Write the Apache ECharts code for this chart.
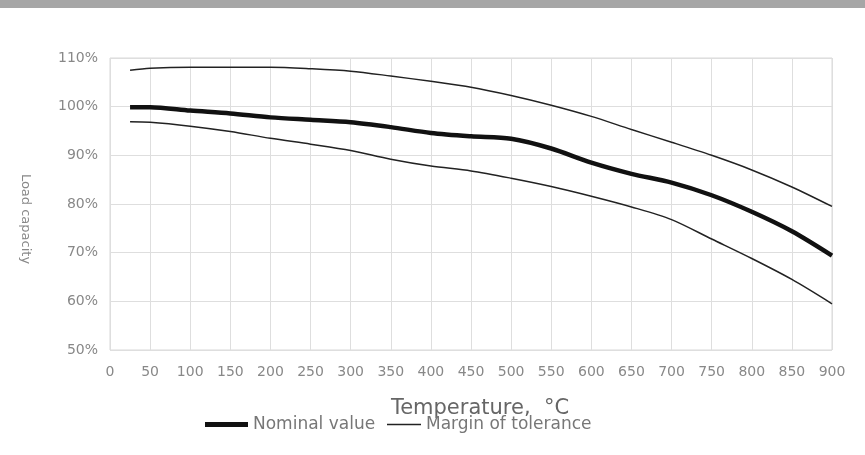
<!DOCTYPE html>
<html>
<head>
<meta charset="utf-8">
<script src="https://cdn.jsdelivr.net/npm/echarts@6/dist/echarts.min.js"></script>
<style>
html,body{margin:0;padding:0;background:#fff;}
#c{width:865px;height:455px;}
</style>
</head>
<body>
<div id="c"></div>
<script>
var temperatures = [25,50,100,150,200,250,300,350,400,450,500,550,600,650,700,750,800,850,900];
var nominal = [99.9,99.9,99.2,98.6,97.8,97.3,96.8,95.8,94.6,93.9,93.4,91.4,88.5,86.2,84.4,81.8,78.4,74.4,69.4];
var upper = [107.5,107.9,108.1,108.1,108.1,107.8,107.3,106.3,105.2,104.0,102.3,100.3,98.0,95.3,92.7,90.0,87.0,83.5,79.5];
var lower = [96.9,96.8,96.0,94.9,93.5,92.3,91.0,89.2,87.8,86.8,85.3,83.6,81.6,79.4,76.8,72.8,68.8,64.5,59.5];
var yTicks = [50,60,70,80,90,100,110];
var xTicks = [0,50,100,150,200,250,300,350,400,450,500,550,600,650,700,750,800,850,900];

function pairs(xs, ys){ return xs.map(function(x,i){ return [x, ys[i]]; }); }

var chart = echarts.init(document.getElementById('c'), null, {renderer:'canvas'});
var font = 'DejaVu Sans';
var legendText = {color:'#777', fontFamily:font, fontSize:17};
chart.setOption({
  animation:false,
  backgroundColor:'#ffffff',
  graphic:[{type:'rect', left:0, top:0, shape:{width:865, height:8}, style:{fill:'#a6a6a6'}, silent:true}],
  grid:{left:110, right:33, top:58, bottom:105, show:true, borderColor:'#d8d8d8', borderWidth:1},
  legend:[
    {top:411, left:200, itemWidth:43, itemHeight:5, itemGap:0, icon:'rect',
     textStyle:legendText, data:['Nominal value'], itemStyle:{color:'#111'}},
    {top:411, left:382, itemWidth:34, itemHeight:1.5, itemGap:0, icon:'rect',
     textStyle:legendText, data:['Margin of tolerance'], itemStyle:{color:'#222'}}
  ],
  xAxis:{
    type:'value', min:0, max:900, interval:50,
    name:'Temperature,  °C', nameLocation:'middle', nameGap:48,
    nameTextStyle:{color:'#666', fontFamily:font, fontSize:21, padding:[0,0,0,18]},
    axisLine:{show:false}, axisTick:{show:false},
    axisLabel:{color:'#888', fontFamily:font, fontSize:14, margin:15},
    splitLine:{show:true, lineStyle:{color:'#dedede', width:1}}
  },
  yAxis:{
    type:'value', min:50, max:110, interval:10,
    name:'Load capacity', nameLocation:'middle', nameGap:78, nameRotate:-90,
    nameTextStyle:{color:'#888', fontFamily:font, fontSize:13, padding:[0,0,0,30]},
    axisLine:{show:false}, axisTick:{show:false},
    axisLabel:{color:'#888', fontFamily:font, fontSize:14, margin:12, formatter:'{value}%'},
    splitLine:{show:true, lineStyle:{color:'#dedede', width:1}}
  },
  series:[
    {name:'Nominal value', type:'line', smooth:0.3, symbol:'none', data:pairs(temperatures, nominal),
     lineStyle:{color:'#111', width:4.5}, itemStyle:{color:'#111'}},
    {name:'Margin of tolerance', type:'line', smooth:0.3, symbol:'none', data:pairs(temperatures, upper),
     lineStyle:{color:'#222', width:1.5}, itemStyle:{color:'#222'}},
    {name:'Margin of tolerance', type:'line', smooth:0.3, symbol:'none', data:pairs(temperatures, lower),
     lineStyle:{color:'#222', width:1.5}, itemStyle:{color:'#222'}}
  ]
});
</script>
</body>
</html>
